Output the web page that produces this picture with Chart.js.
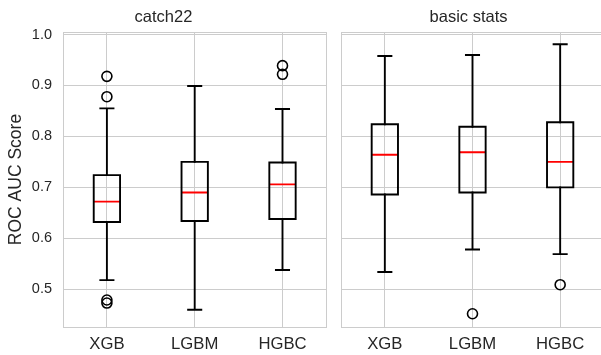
<!DOCTYPE html>
<html>
<head>
<meta charset="utf-8">
<script src="https://cdn.jsdelivr.net/npm/chart.js@4/dist/chart.umd.min.js"></script>
<style>
  body { margin: 0; width: 601px; height: 355px; overflow: hidden; background: #fff; position: relative; }
  canvas { position: absolute; top: 0; }
  #left { left: 0; }
  #right { left: 333px; }
</style>
</head>
<body>
<canvas id="left" width="333" height="355"></canvas>
<canvas id="right" width="280" height="355"></canvas>
<script>
// Box plot data
var models = ['XGB', 'LGBM', 'HGBC'];
var yTicks = [0.5, 0.6, 0.7, 0.8, 0.9, 1.0];

// catch22
var c22Lo  = [0.518, 0.460, 0.538];
var c22Q1  = [0.632, 0.634, 0.638];
var c22Med = [0.672, 0.690, 0.706];
var c22Q3  = [0.724, 0.750, 0.749];
var c22Hi  = [0.855, 0.899, 0.854];
var c22Out = [[0.918, 0.878, 0.479, 0.473], [], [0.939, 0.922]];

// basic stats
var bsLo  = [0.534, 0.578, 0.569];
var bsQ1  = [0.686, 0.690, 0.700];
var bsMed = [0.764, 0.769, 0.750];
var bsQ3  = [0.824, 0.819, 0.828];
var bsHi  = [0.958, 0.960, 0.981];
var bsOut = [[], [0.452], [0.509]];

var FONT = "'Liberation Sans', Arial, sans-serif";
var TEXT = '#262626';
var GRID = '#cccccc';
var BOX_HALF = 0.15, CAP_HALF = 0.075;

function boxDatasets(lo, q1, med, q3, hi, outl) {
  var boxPts = [], whiskPts = [], medPts = [], outPts = [];
  for (var i = 0; i < models.length; i++) {
    var x = i + 1;
    boxPts.push({x: x - BOX_HALF, y: q1[i]}, {x: x + BOX_HALF, y: q1[i]},
                {x: x + BOX_HALF, y: q3[i]}, {x: x - BOX_HALF, y: q3[i]},
                {x: x - BOX_HALF, y: q1[i]}, {x: x, y: null});
    whiskPts.push({x: x, y: q3[i]}, {x: x, y: hi[i]}, {x: x, y: null},
                  {x: x - CAP_HALF, y: hi[i]}, {x: x + CAP_HALF, y: hi[i]}, {x: x, y: null},
                  {x: x, y: q1[i]}, {x: x, y: lo[i]}, {x: x, y: null},
                  {x: x - CAP_HALF, y: lo[i]}, {x: x + CAP_HALF, y: lo[i]}, {x: x, y: null});
    medPts.push({x: x - BOX_HALF, y: med[i]}, {x: x + BOX_HALF, y: med[i]}, {x: x, y: null});
    outl[i].forEach(function (v) { outPts.push({x: x, y: v}); });
  }
  var line = {type: 'line', pointRadius: 0, tension: 0, spanGaps: false, borderWidth: 1.9,
              borderJoinStyle: 'miter', borderCapStyle: 'square', fill: false};
  return [
    Object.assign({}, line, {data: whiskPts, borderColor: '#000'}),
    Object.assign({}, line, {data: boxPts, borderColor: '#000'}),
    Object.assign({}, line, {data: medPts, borderColor: '#ff0000', borderCapStyle: 'butt'}),
    {type: 'line', data: outPts, showLine: false, pointRadius: 5, pointBorderWidth: 1.6,
     pointBorderColor: '#000', pointBackgroundColor: 'rgba(0,0,0,0)', pointHoverRadius: 5}
  ];
}

// light grey frame round the plot area
var framePlugin = {
  id: 'frame',
  beforeDatasetsDraw: function (chart) {
    var a = chart.chartArea, ctx = chart.ctx;
    ctx.save();
    ctx.strokeStyle = GRID;
    ctx.lineWidth = 1;
    ctx.strokeRect(Math.round(a.left) + 0.5, Math.round(a.top) + 0.5,
                   Math.round(a.right - a.left), Math.round(a.bottom - a.top));
    ctx.restore();
  }
};

function makeChart(id, title, datasets, showY, yWidth, padRight) {
  return new Chart(document.getElementById(id), {
    data: {datasets: datasets},
    plugins: [framePlugin],
    options: {
      responsive: false,
      animation: false,
      devicePixelRatio: 1,
      layout: {padding: {left: 0, right: padRight, top: 0, bottom: 0}},
      plugins: {
        legend: {display: false},
        tooltip: {enabled: false},
        title: {display: true, text: title, color: TEXT,
                font: {family: FONT, size: 16.5, weight: 'normal'},
                padding: {top: 8, bottom: 4.2}}
      },
      scales: {
        x: {
          type: 'linear', min: 0.5, max: 3.5,
          afterBuildTicks: function (s) { s.ticks = models.map(function (m, i) { return {value: i + 1}; }); },
          afterFit: function (s) { s.height = 28; },
          ticks: {color: TEXT, font: {family: FONT, size: 16.7}, padding: 7,
                  callback: function (v) { return models[Math.round(v) - 1]; }},
          grid: {color: GRID, lineWidth: 1, drawTicks: false},
          border: {color: GRID}
        },
        y: {
          type: 'linear', min: 0.426, max: 1.005,
          afterBuildTicks: function (s) { s.ticks = yTicks.map(function (v) { return {value: v}; }); },
          afterFit: function (s) { s.width = yWidth; },
          ticks: {display: showY, color: TEXT, font: {family: FONT, size: 14.5}, padding: 11,
                  callback: function (v) { return v.toFixed(1); }},
          title: {display: showY, text: 'ROC AUC Score', color: TEXT,
                  font: {family: FONT, size: 17.5}, padding: {top: 6, bottom: 0}},
          grid: {color: GRID, lineWidth: 1, drawTicks: false},
          border: {color: GRID}
        }
      }
    }
  });
}

makeChart('left', 'catch22', boxDatasets(c22Lo, c22Q1, c22Med, c22Q3, c22Hi, c22Out), true, 63, 6);
makeChart('right', 'basic stats', boxDatasets(bsLo, bsQ1, bsMed, bsQ3, bsHi, bsOut), false, 8, 9);
</script>
</body>
</html>
